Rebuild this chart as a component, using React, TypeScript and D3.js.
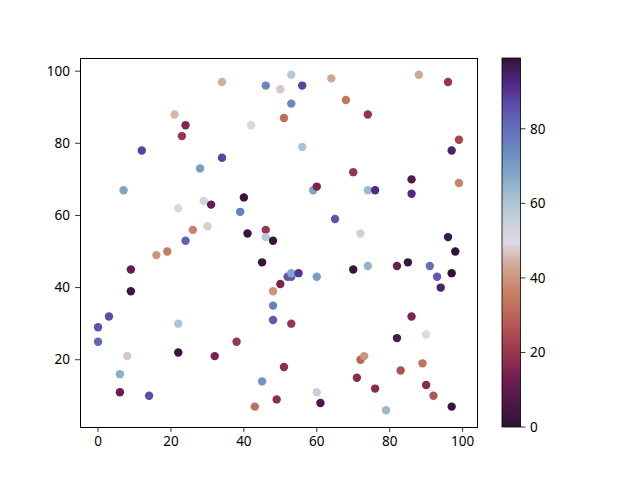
import * as d3 from 'd3'

// scatter points: x, y and the colour value
const xs = [0, 0, 3, 6, 6, 7, 8, 9, 9, 12, 14, 16, 19, 21, 22, 22, 22, 23, 24, 24,
  26, 28, 29, 30, 31, 32, 34, 34, 38, 39, 40, 41, 43, 42, 45, 45, 46, 46, 46, 48,
  48, 48, 48, 49, 50, 50, 51, 51, 52, 53, 53, 55, 53, 53, 53, 56, 56, 59, 60, 60,
  60, 61, 64, 65, 68, 70, 70, 71, 72, 72, 73, 74, 74, 74, 76, 76, 79, 82, 82, 83,
  85, 86, 86, 86, 88, 89, 90, 90, 91, 92, 93, 94, 96, 96, 97, 97, 97, 98, 99, 99]
const ys = [29, 25, 32, 16, 11, 67, 21, 45, 39, 78, 10, 49, 50, 88, 62, 30, 22, 82, 85, 53,
  56, 73, 64, 57, 63, 21, 97, 76, 25, 61, 65, 55, 7, 85, 47, 14, 96, 56, 54, 53,
  39, 35, 31, 9, 95, 41, 87, 18, 43, 43, 44, 44, 99, 91, 30, 96, 79, 67, 68, 43,
  11, 8, 98, 59, 92, 72, 45, 15, 55, 20, 21, 88, 67, 46, 67, 12, 6, 46, 26, 17,
  47, 70, 66, 32, 99, 19, 27, 13, 46, 10, 43, 40, 97, 54, 78, 44, 7, 50, 81, 69]
const cs = [85, 82, 86, 66, 12, 68, 47, 12, 4, 88, 86, 40, 35, 45, 51, 60, 3, 20, 16, 83,
  37, 70, 53, 48, 12, 14, 44, 88, 20, 77, 3, 3, 32, 51, 2, 72, 75, 20, 58, 3,
  40, 76, 84, 18, 47, 15, 32, 18, 85, 84, 68, 90, 58, 75, 20, 88, 60, 68, 15, 70,
  55, 7, 43, 85, 34, 20, 3, 17, 54, 30, 40, 19, 63, 65, 92, 17, 63, 13, 96, 26,
  2, 8, 92, 15, 43, 33, 50, 17, 80, 27, 84, 94, 20, 97, 94, 0, 2, 99, 24, 37]

const xTicks = [0, 20, 40, 60, 80, 100]
const yTicks = [20, 40, 60, 80, 100]
const cTicks = [0, 20, 40, 60, 80]

// rough twilight_shifted stops
const twilightShifted = [
  '#2f1436', '#4a1747', '#6b1c50', '#93304f', '#ac4950', '#bd6a5a', '#c6866a', '#cfa995',
  '#e2d9e2', '#c3d0da', '#a2bfce', '#7fa5c7', '#6a8ac1', '#626dba', '#5e4aa8', '#4e2680', '#2f1436',
]

const font = '"Noto Sans", sans-serif'

export default function App() {
  const W = 640
  const H = 480
  const plot = { left: 80, right: 477, top: 58, bottom: 427 }
  const bar = { left: 502, right: 520.5 }

  const xPad = (d3.max(xs)! - d3.min(xs)!) * 0.05
  const yPad = (d3.max(ys)! - d3.min(ys)!) * 0.05
  const x = d3.scaleLinear()
    .domain([d3.min(xs)! - xPad, d3.max(xs)! + xPad])
    .range([plot.left, plot.right])
  const y = d3.scaleLinear()
    .domain([d3.min(ys)! - yPad, d3.max(ys)! + yPad])
    .range([plot.bottom, plot.top])

  const cMin = d3.min(cs)!
  const cMax = d3.max(cs)!
  const interp = d3.piecewise(d3.interpolateRgb, twilightShifted)
  const color = d3.scaleSequential(interp).domain([cMin, cMax])
  const cy = d3.scaleLinear().domain([cMin, cMax]).range([plot.bottom, plot.top])

  const stops = d3.range(0, 1.0001, 1 / 32)

  return (
    <div style={{ position: 'absolute', left: 0, top: 0 }}>
      <svg width={W} height={H} style={{ display: 'block', background: '#fff' }}>
        <defs>
          <linearGradient id="cbar" x1="0" y1="1" x2="0" y2="0">
            {stops.map(t => (
              <stop key={t} offset={t} stopColor={interp(t)} />
            ))}
          </linearGradient>
        </defs>

        {/* points */}
        {xs.map((d, i) => (
          <circle key={i} cx={x(d)} cy={y(ys[i])} r={4.2} fill={color(cs[i])} />
        ))}

        {/* axes frame */}
        <rect x={plot.left} y={plot.top} width={plot.right - plot.left} height={plot.bottom - plot.top}
          fill="none" stroke="#000" strokeWidth={1} shapeRendering="crispEdges" />

        {xTicks.map(t => (
          <g key={t} transform={`translate(${x(t)},${plot.bottom})`}>
            <line y2={4.9} stroke="#000" strokeWidth={0.8} />
            <text y={19} textAnchor="middle" fontFamily={font} fontSize={13.5} fill="#000">{t}</text>
          </g>
        ))}
        {yTicks.map(t => (
          <g key={t} transform={`translate(${plot.left},${y(t)})`}>
            <line x2={-4.9} stroke="#000" strokeWidth={0.8} />
            <text x={-10} dy="0.35em" textAnchor="end" fontFamily={font} fontSize={13.5} fill="#000">{t}</text>
          </g>
        ))}

        {/* colorbar */}
        <rect x={bar.left} y={plot.top} width={bar.right - bar.left} height={plot.bottom - plot.top}
          fill="url(#cbar)" stroke="#000" strokeWidth={0.8} />
        {cTicks.map(t => (
          <g key={t} transform={`translate(${bar.right},${cy(t)})`}>
            <line x2={4.9} stroke="#000" strokeWidth={0.8} />
            <text x={9.5} dy="0.35em" textAnchor="start" fontFamily={font} fontSize={13.5} fill="#000">{t}</text>
          </g>
        ))}
      </svg>
    </div>
  )
}
